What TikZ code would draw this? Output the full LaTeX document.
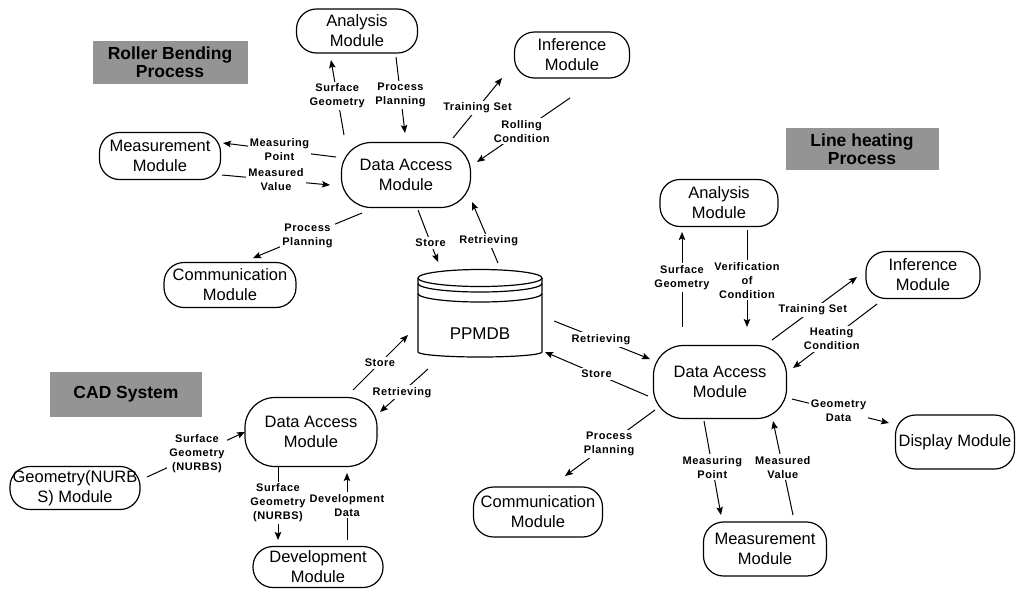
\documentclass[tikz,border=0pt]{standalone}
\usepackage{fontspec}
\setmainfont{Liberation Sans}
\newfontfamily\lblfont[LetterSpace=5]{Liberation Sans}
\usetikzlibrary{arrows.meta}

\tikzset{
  module/.style={draw, line width=1.2pt, rounded corners=20pt, align=center,
    inner sep=0pt, font=\fontsize{16.5}{20}\selectfont},
  bigmodule/.style={module, rounded corners=30pt},
  lbl/.style={fill=white, inner sep=2pt, align=center,
    font=\lblfont\bfseries\fontsize{11}{14}\selectfont},
  arr/.style={line width=1pt, -{Stealth[length=8pt,width=6.5pt,inset=1.5pt]}},
  title/.style={fill=black!42, align=center, inner sep=0pt,
    font=\bfseries\fontsize{17.5}{18.5}\selectfont},
  dbline/.style={line width=1.2pt}
}

\begin{document}
\begin{tikzpicture}[x=1pt, y=-1pt]
\useasboundingbox[fill=white] (0,0) rectangle (1016,590);

% ---- section titles
\node[title, minimum width=155pt, minimum height=43pt] (t1) at (170,62) {Roller Bending\\Process};
\node[title, minimum width=153pt, minimum height=42pt] (t2) at (862,149) {Line heating\\Process};
\node[title, minimum width=152pt, minimum height=45pt] (t3) at (126,394) {CAD System};

% ---- roller bending process
\node[module, minimum width=121pt, minimum height=44pt] (an1) at (357,31) {Analysis\\Module};
\node[module, minimum width=115pt, minimum height=46pt] (in1) at (572,55) {Inference\\Module};
\node[module, minimum width=121pt, minimum height=47pt] (me1) at (160,156) {Measurement\\Module};
\node[bigmodule, minimum width=129pt, minimum height=65pt] (da1) at (406,175) {Data Access\\Module};
\node[module, minimum width=132pt, minimum height=45pt] (co1) at (230,285) {Communication\\Module};

% ---- central database
\node[minimum width=124pt, minimum height=88pt, inner sep=0pt] (db) at (480,313) {};
\draw[dbline] ([shift={(0,-35)}]db.center) ellipse[x radius=62pt, y radius=8.5pt];
\draw[dbline] ([shift={(-62,-29.5)}]db.center) arc[start angle=180, end angle=360, x radius=62pt, y radius=8.5pt];
\draw[dbline] ([shift={(-62,-19.5)}]db.center) arc[start angle=180, end angle=360, x radius=62pt, y radius=8.5pt];
\draw[dbline] ([shift={(-62,-35)}]db.center) -- ([shift={(-62,39)}]db.center)
  arc[start angle=180, end angle=360, x radius=62pt, y radius=5pt]
  -- ([shift={(62,-35)}]db.center);
\node[font=\fontsize{17}{20}\selectfont] (dbname) at ([shift={(0,21)}]db.center) {PPMDB};

% ---- line heating process
\node[module, minimum width=118pt, minimum height=47pt] (an2) at (719,203) {Analysis\\Module};
\node[module, minimum width=114pt, minimum height=47pt] (in2) at (923,275) {Inference\\Module};
\node[bigmodule, minimum width=133pt, minimum height=73pt] (da2) at (720,382) {Data Access\\Module};
\node[module, minimum width=119pt, minimum height=54pt] (di2) at (955,442) {Display Module};
\node[module, minimum width=129pt, minimum height=50pt] (co2) at (538,512) {Communication\\Module};
\node[module, minimum width=123pt, minimum height=54pt] (me2) at (765,549) {Measurement\\Module};

% ---- CAD system
\node[bigmodule, minimum width=132pt, minimum height=69pt] (da3) at (311,432) {Data Access\\Module};
\node[module, minimum width=130pt, minimum height=43pt] (ge3) at (75,488) {Geometry(NURB\\S) Module};
\node[module, minimum width=130pt, minimum height=41pt] (de3) at (318,567) {Development\\Module};

% ---- connectors: roller bending
\draw[arr] ([shift={(-62,-40)}]da1.center) -- node[lbl, pos=0.52]{Surface\\Geometry} ([shift={(-26,29)}]an1.center);
\draw[arr] ([shift={(39,26)}]an1.center) -- node[lbl, pos=0.5]{Process\\Planning} ([shift={(-1,-42)}]da1.center);
\draw[arr] ([shift={(47,-37)}]da1.center) -- node[lbl, pos=0.5]{Training Set} ([shift={(-70,23)}]in1.center);
\draw[arr] ([shift={(-2,43)}]in1.center) -- node[lbl, pos=0.52]{Rolling\\Condition} ([shift={(71,-13)}]da1.center);
\draw[arr] ([shift={(-70,-18)}]da1.center) -- node[lbl, pos=0.5]{Measuring\\Point} ([shift={(63,-13)}]me1.center);
\draw[arr] ([shift={(62,19)}]me1.center) -- node[lbl, pos=0.5]{Measured\\Value} ([shift={(-76,10)}]da1.center);
\draw[arr] ([shift={(-44,38)}]da1.center) -- node[lbl, pos=0.5]{Process\\Planning} ([shift={(23,-27)}]co1.center);
\draw[arr] ([shift={(12,35)}]da1.center) -- node[lbl, pos=0.63]{Store} ([shift={(-42,-51)}]db.center);
\draw[arr] ([shift={(18,-50)}]db.center) -- node[lbl, pos=0.36]{Retrieving} ([shift={(66,27)}]da1.center);

% ---- connectors: line heating
\draw[arr] ([shift={(74,8)}]db.center) -- node[lbl, pos=0.49]{Retrieving} ([shift={(-70,-23)}]da2.center);
\draw[arr] ([shift={(-72,14)}]da2.center) -- node[lbl, pos=0.5]{Store} ([shift={(65,39)}]db.center);
\draw[arr] ([shift={(-38,-55)}]da2.center) -- node[lbl, pos=0.52]{Surface\\Geometry} ([shift={(-37,29)}]an2.center);
\draw[arr] ([shift={(28,27)}]an2.center) -- node[lbl, pos=0.52]{Verification\\of\\Condition} ([shift={(27,-55)}]da2.center);
\draw[arr] ([shift={(52,-42)}]da2.center) -- node[lbl, pos=0.48]{Training Set} ([shift={(-66,2)}]in2.center);
\draw[arr] ([shift={(-46,29)}]in2.center) -- node[lbl, pos=0.54]{Heating\\Condition} ([shift={(73,-14)}]da2.center);
\draw[arr] ([shift={(-65,28)}]da2.center) -- node[lbl, pos=0.51]{Process\\Planning} ([shift={(27,-36)}]co2.center);
\draw[arr] ([shift={(-16,39)}]da2.center) -- node[lbl, pos=0.49]{Measuring\\Point} ([shift={(-44,-34)}]me2.center);
\draw[arr] ([shift={(28,-34)}]me2.center) -- node[lbl, pos=0.51]{Measured\\Value} ([shift={(53,39)}]da2.center);
\draw[arr] ([shift={(72,17)}]da2.center) -- node[lbl, pos=0.48]{Geometry\\Data} ([shift={(-66,-19)}]di2.center);

% ---- connectors: CAD system
\draw[arr] ([shift={(42,-42)}]da3.center) -- node[lbl, pos=0.49]{Store} ([shift={(-72,22)}]db.center);
\draw[arr] ([shift={(-52,56)}]db.center) -- node[lbl, pos=0.54]{Retrieving} ([shift={(69,-20)}]da3.center);
\draw[arr] ([shift={(72,-11)}]ge3.center) -- node[lbl, pos=0.51]{Surface\\Geometry\\(NURBS)} ([shift={(-66,0)}]da3.center);
\draw[arr] ([shift={(-33,35)}]da3.center) -- node[lbl, pos=0.49]{Surface\\Geometry\\(NURBS)} ([shift={(-40,-27)}]de3.center);
\draw[arr] ([shift={(29,-27)}]de3.center) -- node[lbl, pos=0.52]{Development\\Data} ([shift={(36,41)}]da3.center);
\end{tikzpicture}
\end{document}
